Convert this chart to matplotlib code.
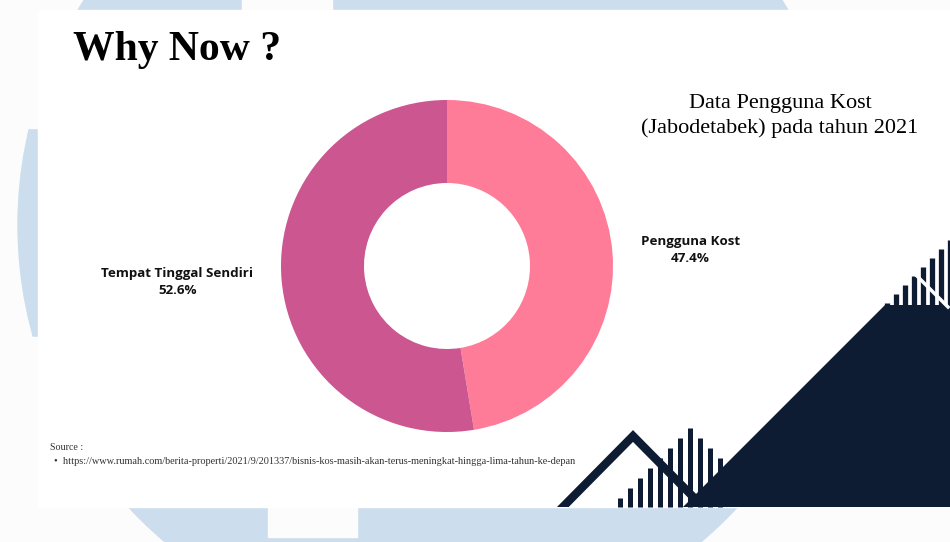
import numpy as np
import matplotlib
matplotlib.use('Agg')
import matplotlib.pyplot as plt
from matplotlib.patches import Circle, Rectangle, Polygon

# data
categories = ['Pengguna Kost', 'Tempat Tinggal Sendiri']
shares = [47.4, 52.6]
slice_colors = ['#FF7C98', '#CB5690']

title = 'Why Now ?'
subtitle = 'Data Pengguna Kost\n(Jabodetabek) pada tahun 2021'
source_url = ('https://www.rumah.com/berita-properti/2021/9/201337/'
              'bisnis-kos-masih-akan-terus-meningkat-hingga-lima-tahun-ke-depan')

W, H = 950, 542
NAVY = '#0E1C33'
PALE = '#CCDEED'

fig = plt.figure(figsize=(W / 100, H / 100), dpi=100)
fig.patch.set_facecolor('#FCFCFC')

# background canvas in pixel units
bg = fig.add_axes([0, 0, 1, 1])
bg.set_xlim(0, W)
bg.set_ylim(H, 0)
bg.axis('off')

# pale watermark behind the slide
bg.add_patch(Circle((433, 225), 415, color=PALE, zorder=0))
for x0, y0, w, h in [(242, 0, 90, 10), (268, 507, 89, 30),
                     (0, 0, 38, 128), (0, 337, 38, 205)]:
    bg.add_patch(Rectangle((x0, y0), w, h, color='#FCFCFC', zorder=1))

# slide card
card = Rectangle((38, 10), W - 38, 497, color='white', zorder=2)
bg.add_patch(card)

# navy decoration bottom right
bg.add_patch(Polygon([(683, 507), (885, 305), (950, 305), (950, 507)],
                     closed=True, color=NAVY, lw=0, zorder=3))
xs = np.arange(887, 952, 9)
bg.vlines(xs, 507 - (xs - 683), 312, color=NAVY, lw=3.8, zorder=3)
bg.plot([903, 948], [262, 307], color='white', lw=2.5, zorder=4)

xs2 = np.arange(620, 725, 10)
stripes = bg.vlines(xs2, 428 + np.abs(xs2 - 690), 507, color=NAVY,
                    lw=3.6, zorder=3)
chevron, = bg.plot([548, 633, 718], [522, 436, 522], color=NAVY, lw=6,
                   solid_joinstyle='miter', zorder=3)
chevron.set_clip_path(card)

# texts
bg.text(73, 50, title, fontsize=30, fontweight='bold',
        family='Liberation Serif', va='center', ha='left', zorder=5)
bg.text(780, 116, subtitle, fontsize=16, family='Liberation Serif',
        va='center', ha='center', linespacing=1.35, zorder=5)
bg.text(50, 448, 'Source :', fontsize=7.2, family='Liberation Serif',
        color='#333333', va='center', ha='left', zorder=5)
bg.text(54, 462, '\u2022  ' + source_url, fontsize=7.4,
        family='Liberation Serif', color='#333333', va='center',
        ha='left', zorder=5)

# donut
cx, cy, r = 447, 266, 166
pie_ax = fig.add_axes([(cx - r) / W, (H - cy - r) / H, 2 * r / W, 2 * r / H])
labels = [f'{c}\n{v:.1f}%' for c, v in zip(categories, shares)]
wedges, texts = pie_ax.pie(
    shares, labels=labels, colors=slice_colors, startangle=90,
    counterclock=False, labeldistance=1.17,
    wedgeprops=dict(width=0.5, linewidth=0),
    textprops=dict(fontsize=9.6, fontweight='bold', family='Open Sans',
                   color='#111111', multialignment='center',
                   linespacing=1.45))
for w in wedges:
    w.set_clip_on(False)
pie_ax.set_xlim(-1, 1)
pie_ax.set_ylim(-1, 1)
pie_ax.set_aspect('auto')
pie_ax.axis('off')

fig.savefig('out.png', dpi=100, facecolor=fig.get_facecolor())
